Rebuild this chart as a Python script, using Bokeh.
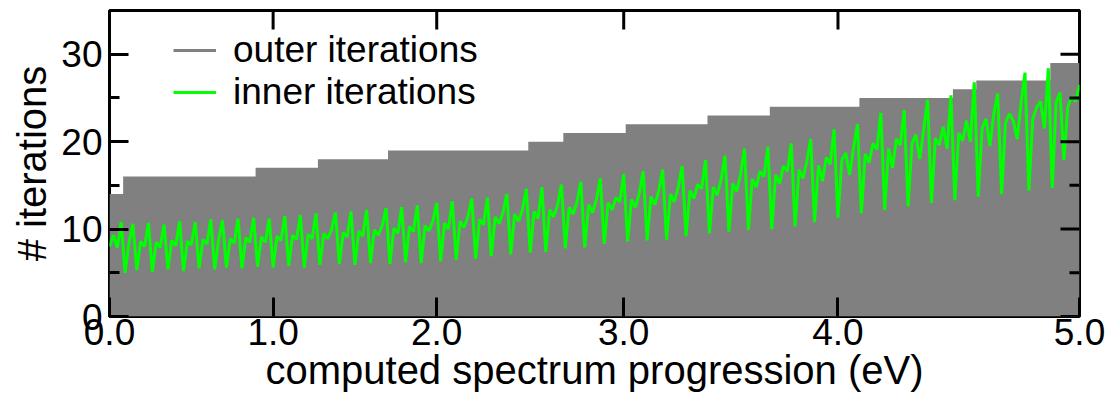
from bokeh.plotting import figure
from bokeh.models import (ColumnDataSource, Range1d, LinearAxis, FixedTicker,
                          Legend, LegendItem)
from bokeh.embed import file_html
from bokeh.resources import INLINE

# ---- data -------------------------------------------------------------
# x is the index of the computed point along the spectrum progression
INNER_ITERATIONS = [
    8.0, 9.3, 7.9, 10.8,
    5.0, 8.4, 10.6,
    5.3, 8.6, 8.0, 10.7,
    5.1, 8.5, 7.9, 10.5,
    5.4, 8.7, 8.1, 10.9,
    5.2, 8.6, 8.2, 10.8,
    5.5, 8.8, 8.3, 11.1,
    5.4, 8.7, 11.0,
    5.6, 8.9, 8.4, 11.2,
    5.5, 9.0, 8.5, 11.3,
    5.7, 9.1, 8.5, 11.2,
    5.6, 9.2, 8.7, 11.5,
    5.8, 9.3, 8.8, 11.6,
    5.6, 9.4, 8.9, 11.8,
    5.9, 9.5, 8.9, 9.9, 11.9,
    6.0, 9.6, 9.1, 12.0,
    5.9, 9.8, 9.2, 12.2,
    6.1, 9.9, 9.3, 10.4, 12.4,
    6.0, 10.1, 9.5, 12.5,
    6.2, 10.3, 9.7, 12.7,
    6.1, 10.4, 9.8, 10.9, 13.0,
    6.3, 10.7, 10.0, 13.2,
    6.5, 10.9, 10.2, 11.4, 13.5,
    6.6, 11.1, 10.5, 13.6,
    6.9, 11.4, 10.6, 11.9, 14.0,
    7.1, 11.7, 10.9, 12.2, 14.6,
    7.3, 12.0, 11.2, 14.8,
    7.4, 12.2, 11.4, 12.7, 15.1,
    7.8, 12.5, 11.7, 13.1, 15.4,
    7.9, 12.8, 11.9, 13.4, 15.8,
    8.3, 13.0, 12.2, 13.6, 13.1, 16.3,
    8.6, 13.4, 12.5, 14.1, 16.6,
    8.7, 13.7, 12.8, 14.4, 16.8,
    8.8, 14.0, 13.1, 14.8, 17.2,
    9.2, 14.4, 13.5, 15.1, 14.6, 17.9,
    9.5, 14.8, 13.9, 15.7, 18.4,
    9.7, 15.2, 14.3, 16.3, 19.2,
    9.9, 15.7, 14.8, 16.6, 16.0, 19.4,
    10.0, 16.2, 15.2, 17.2, 16.6, 19.8,
    10.3, 16.8, 15.8, 17.7, 20.3,
    10.8, 17.3, 15.5, 18.2, 17.4, 21.4,
    11.3, 17.9, 18.7, 16.2, 19.3, 22.0,
    11.8, 18.6, 17.6, 19.8, 19.1, 23.3,
    12.2, 19.2, 17.0, 20.3, 19.6, 23.6,
    12.6, 19.8, 20.8, 18.0, 21.4, 24.8,
    13.0, 20.4, 19.6, 21.7, 19.2, 25.3,
    13.3, 21.0, 20.1, 22.4, 20.0, 26.8,
    13.7, 21.5, 22.6, 19.5, 23.2, 25.5,
    14.0, 22.1, 23.2, 22.4, 20.3, 24.4, 27.9,
    14.4, 22.6, 23.9, 24.6, 21.5, 28.4,
    14.7, 24.5, 25.6, 17.9, 24.0, 25.2, 24.6, 26.5,
]

# outer iterations: constant levels, each starting at a progression index
OUTER_START = [0, 3.5, 37.5, 53.5, 71.5, 107.5, 116.5, 132.5, 153.5, 169.5,
               192.5, 216.5, 222.5, 241.5]
OUTER_LEVEL = [14, 16, 17, 18, 19, 20, 21, 22, 23, 24, 25, 26, 27, 29]

X_TICKS = [0, 42, 84, 132, 187, 249]
X_TICK_LABELS = ["0.0", "1.0", "2.0", "3.0", "4.0", "5.0"]
Y_TICKS = [0, 10, 20, 30]
Y_MINOR = [5, 15, 25]

# ---- figure -----------------------------------------------------------
n = len(INNER_ITERATIONS)
x_end = n - 1
Y_MAX = 35
FRAME_W, FRAME_H = 970, 306
FONT = "Liberation Sans"
MAJOR_LEN, MINOR_LEN = 19, 10

p = figure(width=1114, height=405, output_backend="svg", toolbar_location=None,
           x_range=Range1d(0, x_end), y_range=Range1d(0, Y_MAX),
           min_border_left=109, min_border_right=35,
           min_border_top=10, min_border_bottom=89,
           x_axis_location=None, y_axis_location=None)
p.grid.visible = False
p.outline_line_color = "black"
p.outline_line_width = 3
p.background_fill_color = "white"
p.border_fill_color = "white"

p.varea_step(x=OUTER_START + [x_end], y1=[0] * (len(OUTER_LEVEL) + 1),
             y2=OUTER_LEVEL + [OUTER_LEVEL[-1]], step_mode="after",
             fill_color="#808080")

inner_src = ColumnDataSource(dict(x=list(range(n)), y=INNER_ITERATIONS))
p.line("x", "y", source=inner_src, line_color="#00ff00", line_width=3)

# legend proxies (kept outside the visible range)
leg_outer = p.line([-20, -10], [-5, -5], line_color="#808080", line_width=3)
leg_inner = p.line([-20, -10], [-5, -5], line_color="#00ff00", line_width=3)

# mirrored inward ticks on the top and right frame edges
dy_major = MAJOR_LEN * Y_MAX / FRAME_H
dx_major = MAJOR_LEN * x_end / FRAME_W
dx_minor = MINOR_LEN * x_end / FRAME_W
p.segment(x0=X_TICKS, x1=X_TICKS, y0=[Y_MAX] * len(X_TICKS),
          y1=[Y_MAX - dy_major] * len(X_TICKS), line_color="black", line_width=3)
p.segment(x0=[x_end] * len(Y_TICKS), x1=[x_end - dx_major] * len(Y_TICKS),
          y0=Y_TICKS, y1=Y_TICKS, line_color="black", line_width=3)
p.segment(x0=[x_end] * len(Y_MINOR), x1=[x_end - dx_minor] * len(Y_MINOR),
          y0=Y_MINOR, y1=Y_MINOR, line_color="black", line_width=3)

xticker = FixedTicker(ticks=X_TICKS, minor_ticks=[])
yticker = FixedTicker(ticks=Y_TICKS, minor_ticks=Y_MINOR)


def style(ax):
    ax.axis_line_color = None
    ax.major_tick_in = MAJOR_LEN
    ax.major_tick_out = 0
    ax.minor_tick_in = MINOR_LEN
    ax.minor_tick_out = 0
    ax.major_tick_line_width = 3
    ax.minor_tick_line_width = 3
    ax.major_tick_line_color = "black"
    ax.minor_tick_line_color = "black"
    ax.major_label_text_font = FONT
    ax.major_label_text_font_size = "37px"
    ax.major_label_text_color = "black"
    ax.axis_label_text_font = FONT
    ax.axis_label_text_font_size = "40px"
    ax.axis_label_text_font_style = "normal"
    ax.axis_label_text_color = "black"


xb = LinearAxis(ticker=xticker, axis_label="computed spectrum progression (eV)",
                major_label_overrides={t: s for t, s in zip(X_TICKS, X_TICK_LABELS)})
style(xb)
xb.major_label_standoff = 2
xb.axis_label_standoff = 0
p.add_layout(xb, "below")

yl = LinearAxis(ticker=yticker, axis_label="# iterations")
style(yl)
yl.major_label_standoff = 7
yl.axis_label_standoff = 4
p.add_layout(yl, "left")

legend = Legend(items=[LegendItem(label="outer iterations", renderers=[leg_outer]),
                       LegendItem(label="inner iterations", renderers=[leg_inner])],
                location=(64, 203), orientation="vertical",
                label_text_font=FONT, label_text_font_size="37px",
                label_text_color="black",
                glyph_width=43, glyph_height=38, label_height=38,
                label_standoff=17, spacing=0, padding=0, margin=0,
                border_line_color=None, background_fill_alpha=0)
p.add_layout(legend, "center")

open("out.html", "w").write(file_html(p, INLINE))
